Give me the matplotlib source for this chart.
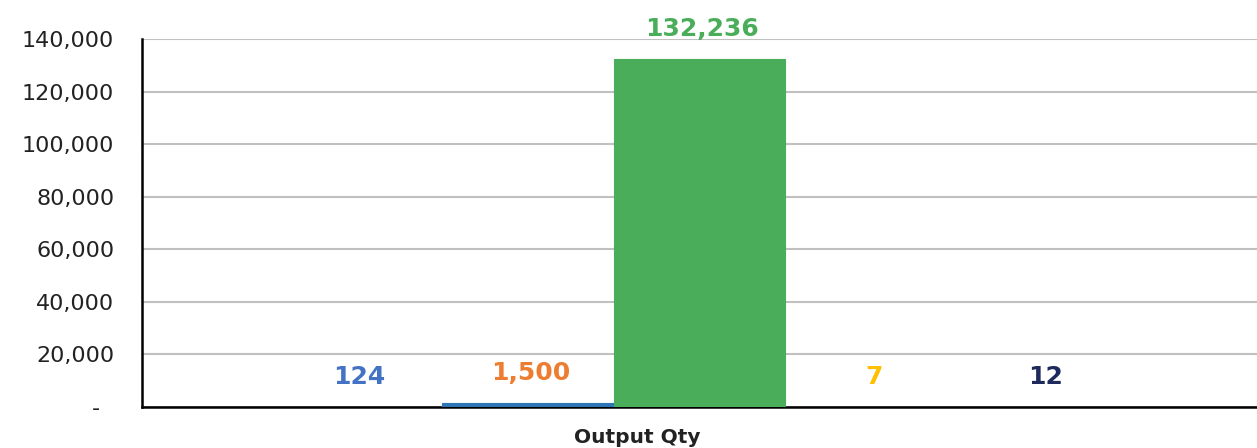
import matplotlib.pyplot as plt
import numpy as np

plt.rcParams['font.family'] = ['DejaVu Sans']

values = [124, 1500, 132236, 7, 12]
bar_colors = ['#3a3a3a', '#2e75b6', '#4aad5a', '#3a3a3a', '#3a3a3a']
label_colors = ['#4472c4', '#ed7d31', '#4aad5a', '#ffc000', '#1f2a5c']
yticks = [0, 20000, 40000, 60000, 80000, 100000, 120000, 140000]
ytick_labels = ['-  ', '20,000', '40,000', '60,000', '80,000', '100,000', '120,000', '140,000']

fig = plt.figure(figsize=(12.57, 4.48), dpi=100)
ax = fig.add_axes([0.113, 0.0915, 0.887, 0.8215])

w = 0.154
x = (np.arange(len(values)) - 2) * w
ax.bar(x, values, width=w, color=bar_colors, edgecolor=bar_colors, linewidth=0.8, zorder=3)

for xi, v, c in zip(x, values, label_colors):
    ax.annotate(f'{v:,}', (xi, v), xytext=(2, 13), textcoords='offset points',
                ha='center', va='bottom', color=c, fontsize=18, fontweight='bold')

ax.set_xlim(-0.5, 0.5)
ax.set_ylim(0, 140000)
ax.set_yticks(yticks)
ax.set_yticklabels(ytick_labels, fontsize=16, color='#222222')
ax.set_xticks([])
ax.tick_params(axis='y', length=0, pad=20)
ax.grid(axis='y', color='#c0c0c0', linewidth=1.5, zorder=0)
for s in ['top', 'right']:
    ax.spines[s].set_visible(False)
ax.spines['left'].set_linewidth(1.8)
ax.spines['bottom'].set_linewidth(1.8)

fig.text(637 / 1257, 1 - 437 / 448, 'Output Qty', ha='center', va='center',
         fontsize=14.5, fontweight='bold', color='#222222')

fig.savefig('out.png', dpi=100)
